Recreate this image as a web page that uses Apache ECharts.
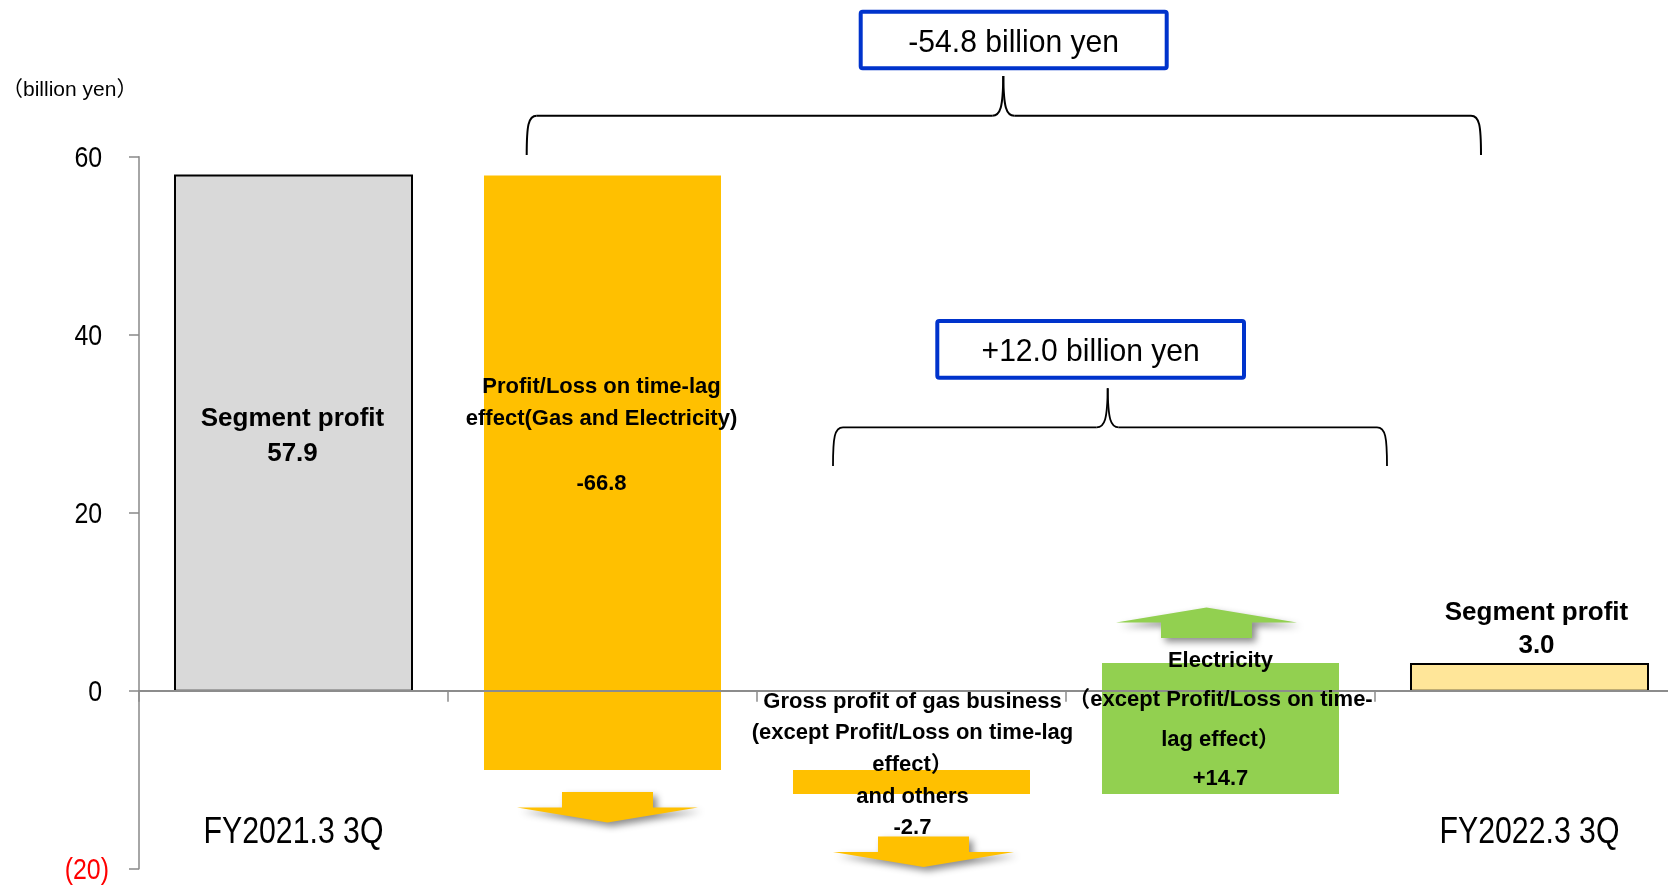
<!DOCTYPE html>
<html lang="en">
<head>
<meta charset="UTF-8">
<title>Segment profit bridge</title>
<style>
  html, body { margin: 0; padding: 0; background: #fff; }
  #main { width: 1668px; height: 886px; }
</style>
<script src="https://cdn.jsdelivr.net/npm/echarts@6/dist/echarts.min.js"></script>
</head>
<body>
<div id="main"></div>
<script>
// ---- data ----
var categories = ['FY2021.3 3Q', 'Time-lag', 'Gas and others', 'Electricity', 'FY2022.3 3Q'];
var axisNames = ['FY2021.3 3Q', '', '', '', 'FY2022.3 3Q'];
var startValue = 57.9;
var changes = [-66.8, -2.7, 14.7];
var endValue = 3.0;
var labelTitles = [
  'Segment profit',
  'Profit/Loss on time-lag\neffect(Gas and Electricity)\n',
  'Gross profit of gas business\n(except Profit/Loss on time-lag\neffect）\nand others',
  'Electricity\n（except Profit/Loss on time-\nlag effect）',
  'Segment profit'
];
var yTicks = [-20, 0, 20, 40, 60];
var totalChange = '-54.8 billion yen';
var subChange = '+12.0 billion yen';
var unitLabel = '（billion yen）';

// ---- build columns: [index, low, high] ----
var bars = [[0, 0, startValue]];
var level = startValue;
for (var k = 0; k < changes.length; k++) {
  var next = +(level + changes[k]).toFixed(1);
  bars.push([k + 1, Math.min(level, next), Math.max(level, next)]);
  level = next;
}
bars.push([categories.length - 1, 0, endValue]);

var valueTexts = [startValue.toFixed(1)].concat(changes.map(function (c) {
  return (c > 0 ? '+' : '') + c.toFixed(1);
}), [endValue.toFixed(1)]);
var labelData = labelTitles.map(function (t, i) { return [i, t + '\n' + valueTexts[i]]; });

// ---- styles ----
var FONT = '"Liberation Sans", Arial, "Noto Sans CJK JP", sans-serif';
var NARROW = 0.83; // horizontal squeeze to imitate a narrow face
var barStyles = [
  { fill: '#D9D9D9', stroke: '#000', lineWidth: 2 },
  { fill: '#FFC000' },
  { fill: '#FFC000' },
  { fill: '#92D050' },
  { fill: '#FFE699', stroke: '#000', lineWidth: 2 }
];
// label anchor (value on y), x offset, font size, line height
var labelLayout = [
  { at: 28.6, dx: -1, size: 26, lh: 35 },
  { at: 28.7, dx: -1, size: 22, lh: 32.3 },
  { at: -8.35, dx: 1, size: 22, lh: 31.6 },
  { at: -3.3, dx: 0, size: 22, lh: 39.5 },
  { at: 6.9, dx: 7, size: 26, lh: 32.5 }
];
// arrows: column, direction, gap from bar end, x offset
var arrows = [
  { col: 1, dir: 'down', gap: 22, dx: 5, color: '#FFC000' },
  { col: 2, dir: 'down', gap: 42.5, dx: 12, color: '#FFC000' },
  { col: 3, dir: 'up', gap: 25, dx: -14, color: '#92D050' }
];

var chart = echarts.init(document.getElementById('main'));

function renderBar(params, api) {
  var i = api.value(0);
  var lo = api.coord([i, api.value(1)]);
  var hi = api.coord([i, api.value(2)]);
  var w = api.size([1, 0])[0] * 0.767;
  return {
    type: 'rect',
    shape: { x: lo[0] - w / 2, y: hi[1], width: w, height: lo[1] - hi[1] },
    style: barStyles[i]
  };
}

function renderArrow(params, api) {
  var a = arrows[params.dataIndex];
  var b = bars[a.col];
  var lo = api.coord([a.col, b[1]]);
  var hi = api.coord([a.col, b[2]]);
  var cx = lo[0] + a.dx;
  var sw = 91, hw = 181, sh = 15.5, hh = 15;
  var pts;
  if (a.dir === 'down') {
    var t = lo[1] + a.gap;
    pts = [[cx - sw / 2, t], [cx + sw / 2, t], [cx + sw / 2, t + sh], [cx + hw / 2, t + sh],
           [cx, t + sh + hh], [cx - hw / 2, t + sh], [cx - sw / 2, t + sh]];
  } else {
    var bt = hi[1] - a.gap;
    pts = [[cx - sw / 2, bt], [cx + sw / 2, bt], [cx + sw / 2, bt - sh], [cx + hw / 2, bt - sh],
           [cx, bt - sh - hh], [cx - hw / 2, bt - sh], [cx - sw / 2, bt - sh]];
  }
  return {
    type: 'polygon',
    shape: { points: pts },
    style: {
      fill: a.color,
      shadowBlur: 7, shadowOffsetX: 4, shadowOffsetY: 4, shadowColor: 'rgba(0,0,0,0.45)'
    }
  };
}

function renderLabel(params, api) {
  var i = api.value(0);
  var L = labelLayout[i];
  var p = api.coord([i, L.at]);
  return {
    type: 'text',
    z2: 10,
    style: {
      text: labelData[i][1],
      x: p[0] + L.dx, y: p[1],
      align: 'center', verticalAlign: 'middle',
      font: 'bold ' + L.size + 'px ' + FONT,
      lineHeight: L.lh,
      fill: '#000'
    }
  };
}

// period names under the zero line
function renderPeriod(params, api) {
  var i = api.value(0);
  var p = api.coord([i, -15.65]);
  return {
    type: 'text', x: p[0], y: p[1] + 3, scaleX: 0.84,
    style: { text: axisNames[i], x: 0, y: 0, align: 'center', verticalAlign: 'middle', font: '36px ' + FONT, fill: '#000' }
  };
}

// value axis tick labels, Excel style (negatives in red parentheses)
function renderTick(params, api) {
  var v = api.value(1);
  var p = api.coord([0, v]);
  var x = p[0] - api.size([1, 0])[0] / 2 - 30;
  return {
    type: 'text', x: x, y: p[1] + 2, scaleX: NARROW,
    style: {
      text: v < 0 ? '(' + (-v) + ')' : v + ' ',
      x: 0, y: 0, align: 'right', verticalAlign: 'middle',
      font: '30px ' + FONT, fill: v < 0 ? '#FF0000' : '#000'
    }
  };
}

// curly brace made of lines and bezier curves
function brace(x1, x2, xm, yLine, yEnd, yTip, lw) {
  var st = { stroke: '#000', lineWidth: lw, fill: null };
  var r = 10;
  return [
    { type: 'bezierCurve', shape: { x1: x1, y1: yEnd, x2: x1 + r, y2: yLine, cpx1: x1, cpy1: yLine + 10, cpx2: x1 + 1.5, cpy2: yLine }, style: st },
    { type: 'line', shape: { x1: x1 + r, y1: yLine, x2: xm - 11, y2: yLine }, style: st },
    { type: 'bezierCurve', shape: { x1: xm - 11, y1: yLine, x2: xm, y2: yTip, cpx1: xm - 3, cpy1: yLine, cpx2: xm - 0.3, cpy2: yLine - 8 }, style: st },
    { type: 'bezierCurve', shape: { x1: xm, y1: yTip, x2: xm + 11, y2: yLine, cpx1: xm + 0.3, cpy1: yLine - 8, cpx2: xm + 3, cpy2: yLine }, style: st },
    { type: 'line', shape: { x1: xm + 11, y1: yLine, x2: x2 - r, y2: yLine }, style: st },
    { type: 'bezierCurve', shape: { x1: x2 - r, y1: yLine, x2: x2, y2: yEnd, cpx1: x2 - 1.5, cpy1: yLine, cpx2: x2, cpy2: yLine + 10 }, style: st }
  ];
}

var graphics = [
  {
    type: 'text', x: 2, y: 90,
    style: { text: unitLabel, font: '21px ' + FONT, fill: '#000', verticalAlign: 'middle' }
  },
  {
    type: 'rect',
    shape: { x: 860.7, y: 11.7, width: 306, height: 56.6, r: 2 },
    style: { fill: '#fff', stroke: '#0033CC', lineWidth: 4 }
  },
  {
    type: 'text', x: 1013.7, y: 43, scaleX: 0.94,
    style: { text: totalChange, x: 0, y: 0, align: 'center', verticalAlign: 'middle', font: '32px ' + FONT, fill: '#000' }
  },
  {
    type: 'rect',
    shape: { x: 937.3, y: 321, width: 306.7, height: 56.7, r: 2 },
    style: { fill: '#fff', stroke: '#0033CC', lineWidth: 4 }
  },
  {
    type: 'text', x: 1090.7, y: 352.5, scaleX: 0.94,
    style: { text: subChange, x: 0, y: 0, align: 'center', verticalAlign: 'middle', font: '32px ' + FONT, fill: '#000' }
  }
].concat(brace(526.7, 1481, 1003.3, 115.7, 155, 76, 2))
 .concat(brace(833, 1387, 1107.7, 427.3, 466, 388.3, 1.8));

var option = {
  animation: false,
  grid: { left: 139, right: -16, top: 156.7, bottom: 17.3, containLabel: false, outerBoundsMode: 'none' },
  xAxis: {
    type: 'category',
    data: categories,
    z: 3,
    axisLine: { onZero: true, lineStyle: { color: '#8c8c8c', width: 2 } },
    axisTick: { show: true, interval: 0, length: 11, lineStyle: { color: '#8c8c8c', width: 1.5 } },
    axisLabel: { show: false },
    splitLine: { show: false }
  },
  yAxis: {
    type: 'value',
    min: yTicks[0], max: yTicks[yTicks.length - 1], interval: 20,
    axisLine: { show: true, lineStyle: { color: '#898989', width: 1.5 } },
    axisTick: { show: true, length: 10, lineStyle: { color: '#898989', width: 1.5 } },
    splitLine: { show: false },
    axisLabel: { show: false }
  },
  series: [
    { type: 'custom', name: 'columns', renderItem: renderBar, data: bars, z: 2 },
    { type: 'custom', name: 'arrows', renderItem: renderArrow, data: arrows.map(function (a) { return [a.col, 0]; }), z: 4 },
    { type: 'custom', name: 'labels', renderItem: renderLabel, data: labelData.map(function (d) { return [d[0], 0]; }), z: 5 },
    { type: 'custom', name: 'periods', renderItem: renderPeriod, data: axisNames.map(function (n, i) { return [i, 0]; }), z: 5 },
    { type: 'custom', name: 'ticks', renderItem: renderTick, data: yTicks.map(function (v) { return [0, v]; }), z: 5 }
  ],
  graphic: graphics
};

chart.setOption(option);
</script>
</body>
</html>
